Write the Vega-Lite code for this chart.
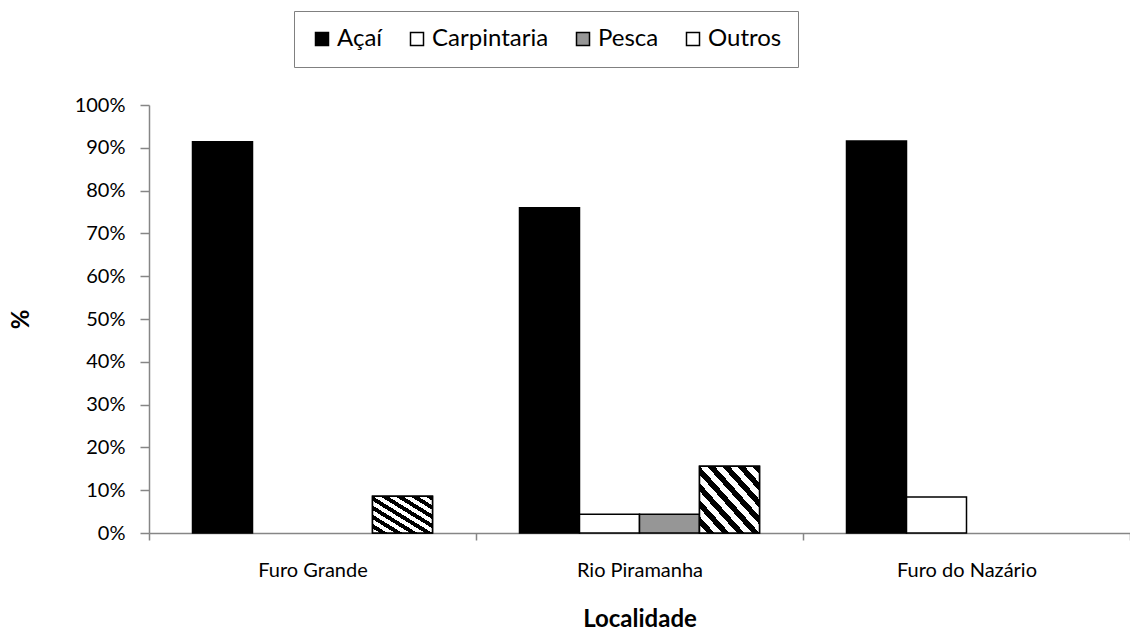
{
  "$schema": "https://vega.github.io/schema/vega-lite/v6.json",
  "autosize": {"type": "none"},
  "width": 981,
  "height": 428,
  "padding": {"left": 149, "top": 105, "right": 0, "bottom": 104},
  "background": "white",
  "config": {
    "view": {"stroke": null},
    "font": "Lato",
    "axis": {"labelFont": "Lato", "titleFont": "Lato", "labelColor": "black", "titleColor": "black", "domainColor": "#868686", "tickColor": "#868686", "domainWidth": 1.5, "tickWidth": 1.5, "grid": false}
  },
  "data": {
    "values": [
      {"Localidade": "Furo Grande", "Categoria": "Açaí", "Valor": 0.914},
      {"Localidade": "Furo Grande", "Categoria": "Outros", "Valor": 0.086},
      {"Localidade": "Rio Piramanha", "Categoria": "Açaí", "Valor": 0.76},
      {"Localidade": "Rio Piramanha", "Categoria": "Carpintaria", "Valor": 0.044},
      {"Localidade": "Rio Piramanha", "Categoria": "Pesca", "Valor": 0.044},
      {"Localidade": "Rio Piramanha", "Categoria": "Outros", "Valor": 0.156},
      {"Localidade": "Furo do Nazário", "Categoria": "Açaí", "Valor": 0.916},
      {"Localidade": "Furo do Nazário", "Categoria": "Carpintaria", "Valor": 0.084}
    ]
  },
  "encoding": {
    "x": {
      "field": "Localidade", "type": "nominal",
      "sort": ["Furo Grande", "Rio Piramanha", "Furo do Nazário"],
      "scale": {"paddingInner": 0, "paddingOuter": 0},
      "axis": {"labelAngle": 0, "labelFontSize": 20, "tickSize": 7, "tickBand": "extent", "labelPadding": 20, "title": "Localidade", "titleFontSize": 24, "titleFontWeight": "bold", "titlePadding": 27}
    },
    "xOffset": {
      "field": "Categoria", "type": "nominal",
      "scale": {"domain": ["Açaí", "Carpintaria", "Pesca", "Outros"], "paddingInner": 0, "paddingOuter": 0.725}
    },
    "y": {
      "field": "Valor", "type": "quantitative",
      "scale": {"domain": [0, 1], "nice": false},
      "axis": {"values": [0, 0.1, 0.2, 0.3, 0.4, 0.5, 0.6, 0.7, 0.8, 0.9, 1], "format": ".0%", "labelFontSize": 20, "tickSize": 9, "labelPadding": 15, "title": "%", "titleFontSize": 24, "titleFontWeight": "bold", "titleX": -128, "titleY": 214, "titleBaseline": "middle", "titleAngle": -90}
    }
  },
  "layer": [
    {
      "mark": {"type": "bar", "stroke": "black", "strokeWidth": 1.5},
      "encoding": {
        "fill": {
          "field": "Categoria", "type": "nominal",
          "scale": {"domain": ["Açaí", "Carpintaria", "Pesca", "Outros"], "range": ["black", "white", "#969696", "white"]},
          "legend": {
            "title": null, "orient": "none", "legendX": 145, "legendY": -94, "direction": "horizontal",
            "symbolType": "square", "symbolSize": 169, "symbolStrokeColor": "black", "symbolStrokeWidth": 1.5,
            "labelFont": "Lato", "labelFontSize": 24, "labelColor": "black", "labelOffset": 3, "columnPadding": 22,
            "strokeColor": "#808080", "padding": 16,
            "encode": {
              "symbols": {
                "update": {
                  "stroke": {"value": "black"},
                  "strokeWidth": {"value": 1.5},
                  "fill": {"signal": "(datum.value === 'Outros' || datum.label === 'Outros') ? {gradient: 'linear', x1: 0, y1: 1, x2: 1, y2: 0, stops: [{offset: 0, color: 'white'}, {offset: 0.33, color: 'white'}, {offset: 0.33, color: 'black'}, {offset: 0.67, color: 'black'}, {offset: 0.67, color: 'white'}, {offset: 1, color: 'white'}]} : scale('fill', datum.value)"}
                }
              }
            }
          }
        }
      }
    },
    {
      "transform": [{"filter": "datum.Categoria === 'Outros'"}],
      "mark": {
        "type": "bar", "stroke": "black", "strokeWidth": 1.5,
        "fill": {
          "gradient": "linear", "x1": 0, "y1": 1, "x2": 1, "y2": 0,
          "stops": [
            {"offset": 0, "color": "white"}, {"offset": 0.0625, "color": "white"}, {"offset": 0.0625, "color": "black"}, {"offset": 0.125, "color": "black"},
            {"offset": 0.125, "color": "white"}, {"offset": 0.1875, "color": "white"}, {"offset": 0.1875, "color": "black"}, {"offset": 0.25, "color": "black"},
            {"offset": 0.25, "color": "white"}, {"offset": 0.3125, "color": "white"}, {"offset": 0.3125, "color": "black"}, {"offset": 0.375, "color": "black"},
            {"offset": 0.375, "color": "white"}, {"offset": 0.4375, "color": "white"}, {"offset": 0.4375, "color": "black"}, {"offset": 0.5, "color": "black"},
            {"offset": 0.5, "color": "white"}, {"offset": 0.5625, "color": "white"}, {"offset": 0.5625, "color": "black"}, {"offset": 0.625, "color": "black"},
            {"offset": 0.625, "color": "white"}, {"offset": 0.6875, "color": "white"}, {"offset": 0.6875, "color": "black"}, {"offset": 0.75, "color": "black"},
            {"offset": 0.75, "color": "white"}, {"offset": 0.8125, "color": "white"}, {"offset": 0.8125, "color": "black"}, {"offset": 0.875, "color": "black"},
            {"offset": 0.875, "color": "white"}, {"offset": 0.9375, "color": "white"}, {"offset": 0.9375, "color": "black"}, {"offset": 1, "color": "black"}
          ]
        }
      }
    }
  ]
}
